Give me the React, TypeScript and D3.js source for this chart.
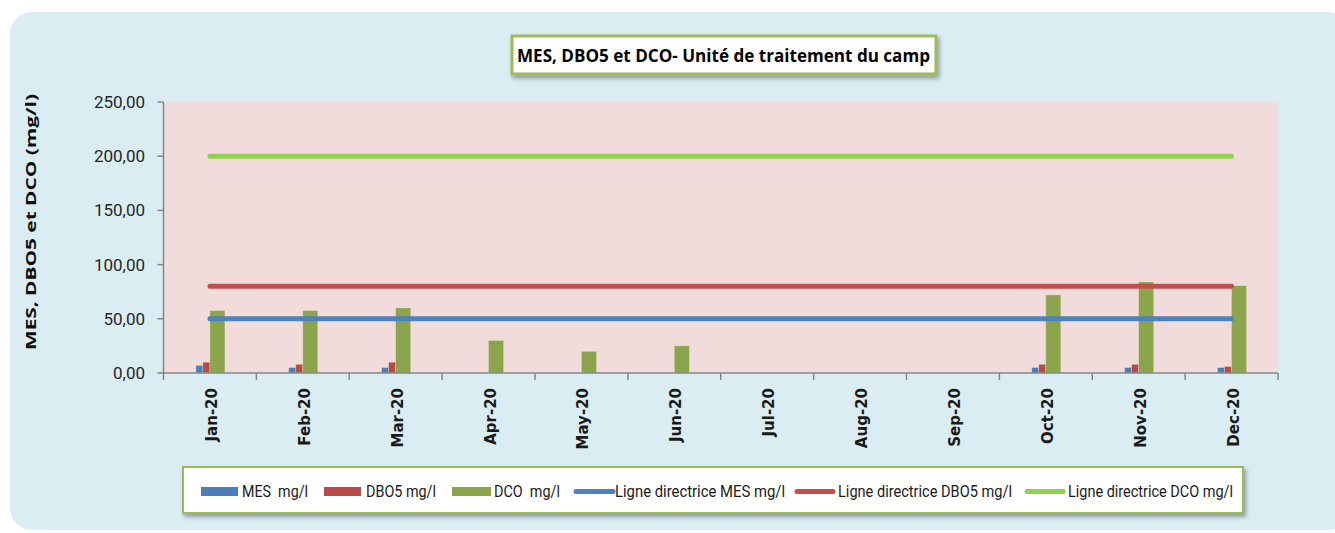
import React from "react";
import * as d3 from "d3";

const months = ["Jan-20","Feb-20","Mar-20","Apr-20","May-20","Jun-20","Jul-20","Aug-20","Sep-20","Oct-20","Nov-20","Dec-20"];
const mesValues: (number | null)[] = [7, 5, 5, null, null, null, null, null, null, 5, 5, 5];
const dbo5Values: (number | null)[] = [10, 8, 10, null, null, null, null, null, null, 8, 8, 6];
const dcoValues: (number | null)[] = [57.5, 57.5, 60, 30, 20, 25, null, null, null, 72, 84, 80.5];
const guideMES = 50;
const guideDBO5 = 80;
const guideDCO = 200;
const yTicks = [0, 50, 100, 150, 200, 250];

const W = 1335, H = 533;
const plot = { left: 163.5, right: 1278, top: 102, bottom: 373 };
const FONT = "'Liberation Sans Narrow', Roboto, 'Open Sans', sans-serif";

const barSeries = [
  { name: "MES  mg/l", values: mesValues, color: "#4a7ebb", x0: -14, x1: -7 },
  { name: "DBO5 mg/l", values: dbo5Values, color: "#b94a47", x0: -7, x1: 0 },
  { name: "DCO  mg/l", values: dcoValues, color: "#8ba54d", x0: 0, x1: 15 },
];
const lineSeries = [
  { name: "Ligne directrice MES mg/l", value: guideMES, color: "#4f81bd" },
  { name: "Ligne directrice DBO5 mg/l", value: guideDBO5, color: "#c0504d" },
  { name: "Ligne directrice DCO mg/l", value: guideDCO, color: "#92d050" },
];

const fmt = (v: number) => v.toFixed(2).replace(".", ",");

export default function App() {
  const x = d3.scaleBand<string>().domain(months).range([plot.left, plot.right]).padding(0);
  const y = d3.scaleLinear().domain([0, 250]).range([plot.bottom, plot.top]);
  const cx = (m: string) => (x(m) as number) + x.bandwidth() / 2;
  const line = d3.line<[number, number]>().x(d => d[0]).y(d => d[1]);

  const legendItems = [
    { kind: "bar", s: barSeries[0], sx: 201, sw: 37, tx: 242, tw: 66 },
    { kind: "bar", s: barSeries[1], sx: 324, sw: 37, tx: 366, tw: 70 },
    { kind: "bar", s: barSeries[2], sx: 452, sw: 39, tx: 494, tw: 66 },
    { kind: "line", s: lineSeries[0], sx: 574, sw: 41, tx: 615, tw: 170 },
    { kind: "line", s: lineSeries[1], sx: 795, sw: 40, tx: 838, tw: 174 },
    { kind: "line", s: lineSeries[2], sx: 1025, sw: 40, tx: 1068, tw: 165 },
  ];

  return (
    <svg width={W} height={H} style={{ position: "absolute", left: 0, top: 0 }} fontFamily={FONT}>
      <defs>
        <filter id="sh" x="-5%" y="-20%" width="110%" height="160%">
          <feDropShadow dx="2" dy="3" stdDeviation="2" floodColor="#000" floodOpacity="0.35" />
        </filter>
      </defs>
      <rect x={0} y={0} width={W} height={H} fill="#ffffff" />
      <rect x={10} y={12} width={1340} height={518} rx={22} fill="#daedf3" />
      <rect x={plot.left} y={plot.top} width={plot.right - plot.left} height={plot.bottom - plot.top} fill="#f2dcdb" />

      {/* bars */}
      {barSeries.map(s => (
        <g key={s.name}>
          {months.map((m, i) => {
            const v = s.values[i];
            if (v == null) return null;
            return (
              <rect key={m} x={cx(m) + s.x0} y={y(v)} width={s.x1 - s.x0} height={y(0) - y(v)}
                fill={s.color} stroke="#e8e0c0" strokeWidth={0.6} strokeOpacity={0.6} />
            );
          })}
        </g>
      ))}

      {/* guide lines */}
      {lineSeries.map(s => (
        <path key={s.name}
          d={line(months.map(m => [cx(m), y(s.value)] as [number, number])) || ""}
          fill="none" stroke={s.color} strokeWidth={5} strokeLinecap="round" />
      ))}

      {/* y axis */}
      <line x1={plot.left} x2={plot.left} y1={plot.top} y2={plot.bottom} stroke="#868686" strokeWidth={1.5} />
      {yTicks.map(t => (
        <g key={t}>
          <line x1={plot.left - 6} x2={plot.left} y1={y(t)} y2={y(t)} stroke="#868686" strokeWidth={1.5} />
          <text x={145} y={y(t)} dy="0.35em" textAnchor="end" fontSize={17} fill="#262626">{fmt(t)}</text>
        </g>
      ))}

      {/* x axis */}
      <line x1={plot.left} x2={plot.right} y1={plot.bottom} y2={plot.bottom} stroke="#868686" strokeWidth={1.5} />
      {months.concat(["__end"]).map((m, i) => {
        const xx = i < months.length ? (x(m) as number) : plot.right;
        return <line key={m} x1={xx} x2={xx} y1={plot.bottom} y2={plot.bottom + 7} stroke="#868686" strokeWidth={1.5} />;
      })}
      {months.map(m => (
        <text key={m} transform={`translate(${cx(m) + 7},388) rotate(-90)`} textAnchor="end"
          fontSize={15} fontWeight={600} fill="#1a1a1a" style={{ fontFamily: "'DejaVu Sans', sans-serif" }}>{m}</text>
      ))}

      {/* y axis title */}
      <text transform="translate(36,222) rotate(-90)" textAnchor="middle" fontSize={15} fontWeight="bold"
        fill="#0d0d0d" style={{ fontFamily: "'Open Sans', sans-serif" }} textLength={256} lengthAdjust="spacingAndGlyphs">
        MES, DBO5 et DCO (mg/l)
      </text>

      {/* title */}
      <rect x={512} y={36} width={424} height={38} fill="#ffffff" stroke="#9bbb59" strokeWidth={3} filter="url(#sh)" />
      <text x={517} y={62} fontSize={18} fontWeight="bold" fill="#000" textLength={413} lengthAdjust="spacingAndGlyphs"
        style={{ fontFamily: "'Open Sans', sans-serif" }}>
        MES, DBO5 et DCO- Unité de traitement du camp
      </text>

      {/* legend */}
      <rect x={183} y={467} width={1060} height={46} fill="#ffffff" stroke="#9bbb59" strokeWidth={2} filter="url(#sh)" />
      {legendItems.map((it, i) => (
        <g key={i}>
          {it.kind === "bar" ? (
            <rect x={it.sx} y={487} width={it.sw} height={9} fill={(it.s as any).color} />
          ) : (
            <line x1={it.sx + 2} x2={it.sx + it.sw - 2} y1={491.5} y2={491.5} stroke={(it.s as any).color} strokeWidth={5} strokeLinecap="round" />
          )}
          <text x={it.tx} y={497} fontSize={17} fill="#1a1a1a" textLength={it.tw} lengthAdjust="spacingAndGlyphs"
            style={{ whiteSpace: "pre" }}>
            {(it.s as any).name}
          </text>
        </g>
      ))}
    </svg>
  );
}
